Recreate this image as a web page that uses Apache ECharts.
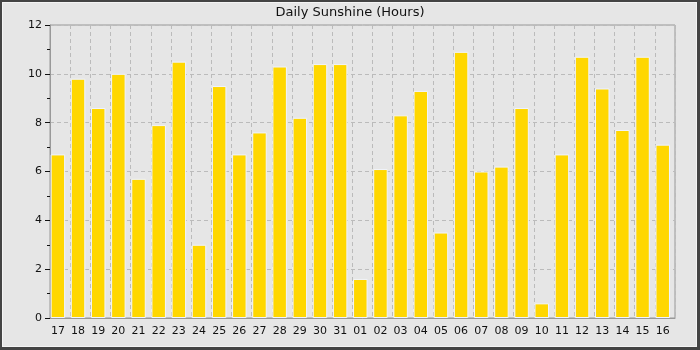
<!DOCTYPE html>
<html>
<head>
<meta charset="utf-8">
<script src="https://cdn.jsdelivr.net/npm/echarts@6/dist/echarts.min.js"></script>
<style>
html,body{margin:0;padding:0;background:#e6e6e6;}
#wrap{position:absolute;left:0;top:0;width:700px;height:350px;box-sizing:border-box;border:2px solid #444;border-right-width:3px;border-bottom-width:3px;}
#wrap::after{content:"";position:absolute;left:0;top:0;right:0;bottom:0;border:1px solid #f4f4f4;pointer-events:none;}
#chart{position:absolute;left:-2px;top:-2px;width:700px;height:350px;}
</style>
</head>
<body>
<div id="wrap"><div id="chart"></div></div>
<script>
const categories = ["17","18","19","20","21","22","23","24","25","26","27","28","29","30","31","01","02","03","04","05","06","07","08","09","10","11","12","13","14","15","16"];
const sunshine = [6.7,9.8,8.6,10.0,5.7,7.9,10.5,3.0,9.5,6.7,7.6,10.3,8.2,10.4,10.4,1.6,6.1,8.3,9.3,3.5,10.9,6.0,6.2,8.6,0.6,6.7,10.7,9.4,7.7,10.7,7.1];
const yTicks = {min:0, max:12, interval:2};
const titleText = "Daily Sunshine (Hours)";

const chart = echarts.init(document.getElementById('chart'), null, {renderer:'canvas'});
const font = 'DejaVu Sans';
chart.setOption({
  backgroundColor: 'transparent',
  animation: false,
  title: {
    text: titleText, left: 'center', top: 1,
    textStyle: {fontFamily: font, fontSize: 13, fontWeight: 'normal', color: '#111'}
  },
  grid: {left: 50, right: 25, top: 25, bottom: 32, show: true, borderColor: '#999', borderWidth: 1, backgroundColor: 'transparent'},
  xAxis: {
    type: 'category', data: categories, boundaryGap: true,
    axisLine: {lineStyle: {color: '#999', width: 1}},
    axisTick: {show: false},
    axisLabel: {interval: 0, fontFamily: font, fontSize: 11, color: '#111', margin: 8, padding: [0, 4.4, 0, 0]},
    splitLine: {show: true, interval: 0, lineStyle: {color: '#bbb', type: [4, 3], width: 1}}
  },
  yAxis: {
    type: 'value', min: yTicks.min, max: yTicks.max, interval: yTicks.interval,
    axisLine: {show: true, lineStyle: {color: '#999', width: 1}},
    axisTick: {show: true, length: 5, lineStyle: {color: '#111'}},
    minorTick: {show: true, splitNumber: 2, length: 3, lineStyle: {color: '#111'}},
    axisLabel: {fontFamily: font, fontSize: 11, color: '#111', margin: 8},
    splitLine: {show: true, lineStyle: {color: '#bbb', type: [4, 3], width: 1}}
  },
  series: [
    {type: 'bar', data: sunshine, barWidth: 14.5, barGap: '0%',
     itemStyle: {color: '#FFD700', borderColor: '#f0f4ff', borderWidth: 1}},
    {type: 'bar', data: sunshine.map(() => null), barWidth: 4.4, silent: true}
  ]
});
</script>
</body>
</html>
